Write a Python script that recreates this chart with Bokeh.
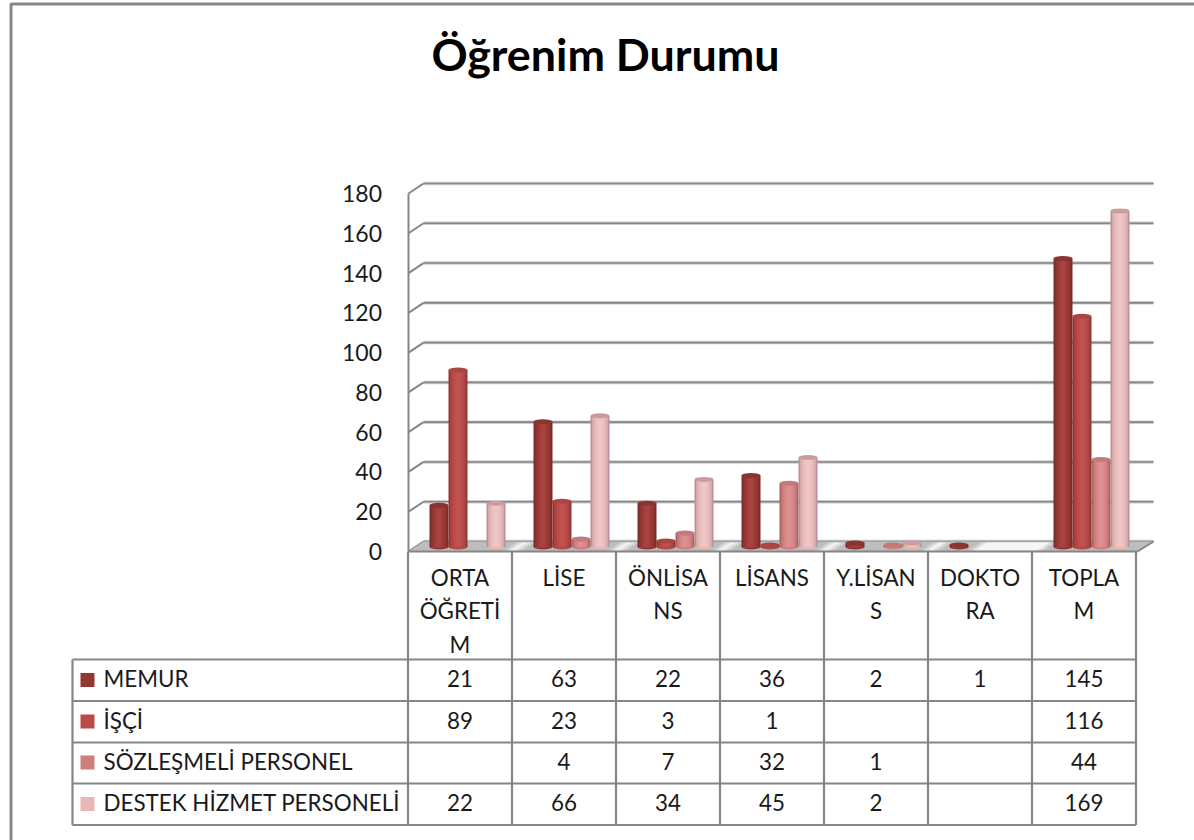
from bokeh.plotting import figure
from bokeh.embed import file_html
from bokeh.resources import INLINE
from bokeh.models import Range1d, LinearAxis, FixedTicker, ColumnDataSource
from bokeh.core.properties import value

TITLE = "Öğrenim Durumu"
categories = ["ORTA\nÖĞRETİ\nM", "LİSE", "ÖNLİSA\nNS", "LİSANS", "Y.LİSAN\nS", "DOKTO\nRA", "TOPLA\nM"]
series_names = ["MEMUR", "İŞÇİ", "SÖZLEŞMELİ PERSONEL", "DESTEK HİZMET PERSONELİ"]
memur = [21, 63, 22, 36, 2, 1, 145]
isci = [89, 23, 3, 1, None, None, 116]
sozlesmeli = [None, 4, 7, 32, 1, None, 44]
destek = [22, 66, 34, 45, 2, None, 169]
y_ticks = [0, 20, 40, 60, 80, 100, 120, 140, 160, 180]

all_series = [memur, isci, sozlesmeli, destek]
legend_colors = ["#953735", "#B94A48", "#CF7E7E", "#E6B8B8"]
shades = [
    ["#7a2d2c", "#8a3331", "#963836", "#a03d3b", "#a84240"],
    ["#8f3836", "#a64240", "#b44846", "#bd4d4b", "#c25250"],
    ["#a86564", "#c27474", "#d08080", "#d88a8a", "#dc9090"],
    ["#b99393", "#d6abab", "#e5b8b8", "#ebc0c0", "#eec6c6"],
]
top_colors = ["#8a3331", "#a84644", "#c27a7a", "#c99d9d"]
FONT = "Lato"
GRID = "#868686"
TEXT_SIZE = "22.4px"
TEXT_COLOR = "#1a1a1a"

W, H = 1194, 840
PX_PER_CAT = 104.0
PX_PER_UNIT = 358.0 / 180.0
X0 = 407.5

p = figure(width=W, height=H, output_backend="svg", toolbar_location=None,
           x_range=Range1d(0, W), y_range=Range1d(H, 0),
           x_axis_location=None, y_axis_location=None, min_border=0,
           outline_line_color=None, background_fill_color="white", tools="")
p.xgrid.visible = False
p.ygrid.visible = False

def vrange(zero_px):
    return Range1d((zero_px - H) / PX_PER_UNIT, zero_px / PX_PER_UNIT)

p.extra_x_ranges = {"cat": Range1d(-X0 / PX_PER_CAT, (W - X0) / PX_PER_CAT)}
p.extra_y_ranges = {"value": vrange(546.5), "front": vrange(551.0), "back": vrange(541.0)}

# chart frame
p.line([1194, 10.5, 10.5], [3.5, 3.5, 840], line_color=GRID, line_width=3)

# back gridlines and slanted wall ticks
p.segment(x0=[423] * len(y_ticks), x1=[1153] * len(y_ticks), y0=y_ticks, y1=y_ticks,
          y_range_name="back", line_color="#cccccc", line_width=3.5)
p.segment(x0=[423] * len(y_ticks), x1=[1153] * len(y_ticks), y0=y_ticks, y1=y_ticks,
          y_range_name="back", line_color=GRID, line_width=1.6)
p.segment(x0=[408] * len(y_ticks), x1=[423] * len(y_ticks),
          y0=[551 - t * PX_PER_UNIT for t in y_ticks],
          y1=[541 - t * PX_PER_UNIT for t in y_ticks],
          line_color=GRID, line_width=2)

# floor
p.patch([408, 423, 1153, 1137], [551, 541, 541, 551], fill_color="#bdbdbd", line_color=None)
gaps = [(505, 533), (609, 637), (713, 741), (817, 845), (922, 950), (969, 1054)]
for a, b in gaps:
    w = b - a
    for f, c in [(0.16, "#d0d0d0"), (0.30, "#e4e4e4"), (0.42, "#f6f6f6")]:
        l0, l1 = a + f * w, b - f * w * 1.1
        if w > 40:
            l0, l1 = a + f * 28, b - f * 28
        p.patch([l0 - 6, l0 + 6, l1 + 6, l1 - 6], [550, 542, 542, 550], fill_color=c, line_color=None)
p.segment(x0=[408, 1137], x1=[1137, 1153], y0=[551, 551], y1=[551, 541], line_color=GRID, line_width=2)

# cylinders
BAR_PX = 19.0
offsets_px = [-28.5, -9.5, 9.5, 28.5]
for k, vals in enumerate(all_series):
    xs = [i + 0.5 + (7.5 + offsets_px[k]) / PX_PER_CAT for i, v in enumerate(vals) if v is not None]
    ys = [v for v in vals if v is not None]
    src = ColumnDataSource(dict(x=xs, v=ys, zero=[0] * len(ys)))
    p.ellipse(x="x", y="zero", width=BAR_PX, height=5, width_units="screen", height_units="screen",
              x_range_name="cat", y_range_name="value", source=src,
              fill_color=shades[k][2], line_color=None)
    for frac, col in zip([1.0, 0.84, 0.66, 0.46, 0.24], shades[k]):
        p.vbar(x="x", bottom="zero", top="v", width=BAR_PX * frac / PX_PER_CAT,
               x_range_name="cat", y_range_name="value", source=src,
               fill_color=col, line_color=None)
    p.ellipse(x="x", y="v", width=BAR_PX, height=5, width_units="screen", height_units="screen",
              x_range_name="cat", y_range_name="value", source=src,
              fill_color=top_colors[k], line_color=None)

# real value axis on the front wall edge
axis = LinearAxis(y_range_name="front", fixed_location=X0, ticker=FixedTicker(ticks=y_ticks),
                  axis_line_color=GRID, axis_line_width=2, major_tick_line_color=None,
                  minor_tick_line_color=None, major_tick_out=0, major_tick_in=0,
                  major_label_standoff=26, major_label_text_font=FONT,
                  major_label_text_font_size="23px", major_label_text_color=TEXT_COLOR)
axis.bounds = (0, 180)
p.add_layout(axis, "left")

# data table
col_edges = [i for i in range(len(categories) + 1)]
p.segment(x0=col_edges, x1=col_edges, y0=[551] * len(col_edges), y1=[824.5] * len(col_edges),
          x_range_name="cat", line_color=GRID, line_width=2.2)
row_lines = [659, 700.5, 742, 783, 824.5]
p.segment(x0=[72] * 5, x1=[1135.5] * 5, y0=row_lines, y1=row_lines, line_color=GRID, line_width=2.2)
p.segment(x0=[72], x1=[72], y0=[659], y1=[824.5], line_color=GRID, line_width=2.2)

centers = [i + 0.5 for i in range(len(categories))]
p.text(x=centers, y=[563] * len(categories), text=categories, x_range_name="cat",
       text_font=value(FONT), text_font_size=TEXT_SIZE, text_color=TEXT_COLOR,
       text_align="center", text_baseline="top", text_line_height=1.25)

row_mid = [679.5, 721, 762, 803.5]
text_mid = [y - 1.5 for y in row_mid]
p.scatter(x=[87] * 4, y=row_mid, size=14, marker="square", fill_color=legend_colors, line_color=None)
p.text(x=[103] * 4, y=text_mid, text=series_names, text_font=value(FONT), text_font_size=TEXT_SIZE,
       text_color=TEXT_COLOR, text_align="left", text_baseline="middle")
for k, vals in enumerate(all_series):
    xs = [c for c, v in zip(centers, vals) if v is not None]
    ts = [str(v) for v in vals if v is not None]
    p.text(x=xs, y=[text_mid[k]] * len(xs), text=ts, x_range_name="cat", text_font=value(FONT),
           text_font_size=TEXT_SIZE, text_color=TEXT_COLOR, text_align="center", text_baseline="middle")

p.text(x=[605], y=[53], text=[TITLE], text_font=value(FONT), text_font_size="44.8px",
       text_font_style="bold", text_color="#000000", text_align="center", text_baseline="middle")

open("out.html", "w").write(file_html(p, INLINE))
